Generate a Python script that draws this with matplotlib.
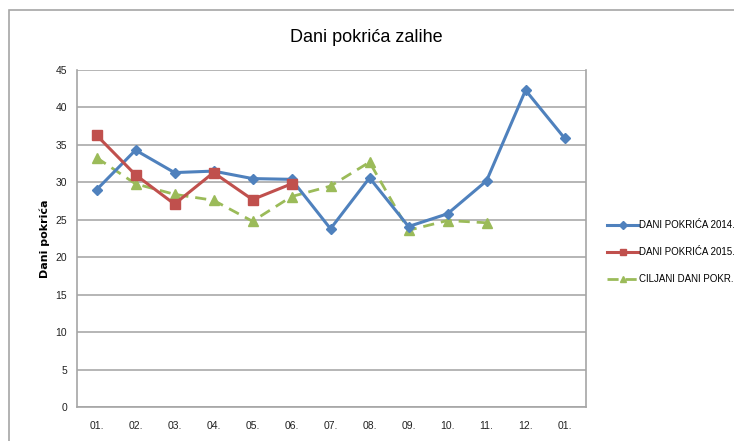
import matplotlib.pyplot as plt
from matplotlib.patches import Rectangle

# monthly stock coverage (days)
months = ['01.', '02.', '03.', '04.', '05.', '06.', '07.', '08.', '09.', '10.', '11.', '12.', '01.']
dani_2014 = [29.0, 34.3, 31.3, 31.5, 30.5, 30.4, 23.8, 30.6, 24.1, 25.8, 30.2, 42.3, 35.9]
dani_2015 = [36.3, 31.0, 27.1, 31.3, 27.7, 29.8]
ciljani = [33.3, 29.8, 28.4, 27.6, 24.8, 28.1, 29.5, 32.7, 23.6, 24.9, 24.6]

labels = ['DANI POKRIĆA 2014.', 'DANI POKRIĆA 2015.', 'CILJANI DANI POKR.']

plt.rcParams['font.family'] = ['Liberation Sans Narrow', 'Liberation Sans', 'DejaVu Sans']

fig = plt.figure(figsize=(7.34, 4.41), dpi=100)
fig.patch.set_facecolor('white')

# chart frame (runs past the right and bottom edges)
fig.patches.append(Rectangle((9 / 734, -0.05), 1.0, 1 - 10 / 441 + 0.05,
                             transform=fig.transFigure, fill=False,
                             edgecolor='#A6A6A6', linewidth=1.2))

ax = fig.add_axes([77 / 734, 1 - 407 / 441, 509 / 734, 337 / 441])

x = list(range(len(months)))
ax.plot(x, dani_2014, color='#4F81BD', lw=2.2, marker='D', ms=5.5, label=labels[0], zorder=3)
ax.plot(x[:len(dani_2015)], dani_2015, color='#C0504D', lw=2.2, marker='s', ms=7, label=labels[1], zorder=4)
ax.plot(x[:len(ciljani)], ciljani, color='#9BBB59', lw=2.0, ls=(0, (4, 2.5)), marker='^', ms=7,
        label=labels[2], zorder=2)

ax.set_xlim(-0.5, 12.55)
ax.set_ylim(0, 45)
ax.set_yticks(range(0, 46, 5))
ax.set_xticks(x)
ax.set_xticklabels(months)
ax.tick_params(axis='both', length=0, labelsize=7.5, colors='#222222')
ax.tick_params(axis='x', pad=10)
ax.tick_params(axis='y', pad=7)

ax.yaxis.grid(True, color='#B0B0B0', lw=1.3)
ax.set_axisbelow(True)
for side in ['left', 'bottom', 'right']:
    ax.spines[side].set_color('#A6A6A6')
    ax.spines[side].set_linewidth(1.2)
ax.spines['top'].set_visible(False)

ax.set_ylabel('Dani pokrića', fontsize=8, fontweight='bold', family=['DejaVu Sans'], labelpad=4)
fig.text(366 / 734, 1 - 38 / 441, 'Dani pokrića zalihe', ha='center', va='center', fontsize=13)

ax.legend(loc='center left', bbox_to_anchor=(1.025, 0.46), frameon=False, fontsize=7,
          handlelength=3.1, labelspacing=1.75, handletextpad=0.15, markerscale=0.7)

fig.savefig('out.png', dpi=100)
